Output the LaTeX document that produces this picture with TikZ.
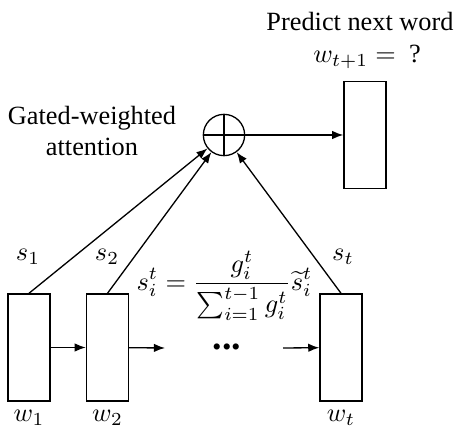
\documentclass[tikz,border=0pt]{standalone}
\usepackage{amsmath, amssymb}
\usepackage{fontspec}
\setmainfont{Liberation Serif}
\usepackage{tikz}
\usetikzlibrary{positioning, arrows.meta}

\begin{document}
\begin{tikzpicture}[
    x=0.38pt, y=-0.38pt,
    font=\fontsize{10}{12}\selectfont,
    cell/.style={draw, line width=0.5pt, minimum width=16pt, minimum height=40.7pt, inner sep=0pt},
    flow/.style={-{Latex[length=4.2pt, width=3.2pt]}, line width=0.5pt},
    tag/.style={inner sep=1pt}
]
\useasboundingbox (0,0) rectangle (459,430);

% Word cells (bottom row)
\node[cell] (w1) at (29,347.5) {};
\node[cell] (w2) at (107.5,347.5) {};
\node[cell] (wt) at (341,347.5) {};

% Output cell
\node[cell] (next) at (365,135) {};

% Summation node
\node[draw, circle, line width=0.5pt, minimum size=15.7pt, inner sep=0pt,
      path picture={\draw[line width=0.5pt] (path picture bounding box.north) -- (path picture bounding box.south)
                    (path picture bounding box.west) -- (path picture bounding box.east);}] (sum) at (224,135) {};

% Word labels
\node[tag, below=2pt of w1] (lw1) {$w_1$};
\node[tag, below=2pt of w2] (lw2) {$w_2$};
\node[tag, below=2pt of wt] (lwt) {$w_t$};

% State labels
\node[tag] (ls1) at (28,257) {$s_1$};
\node[tag] (ls2) at (107,257) {$s_2$};
\node[tag] (lst) at (343,257) {$s_t$};

% Weighting formula
\node[tag] (rule) at (224.5,286) {$\displaystyle s_i^t = \frac{g_i^t}{\sum_{i=1}^{t-1} g_i^t}\widetilde{s}_i^t$};

% Dots
\node[tag] (dots) at (227,347) {\Large\bfseries ...};

% Top annotations
\node[tag, align=center] (gate) at (92,131) {Gated-weighted\\attention};
\node[tag] (pred) at (360,22) {Predict next word};
\node[tag] (ask) at (367,57) {$w_{t+1} =$ \ ?};

% Recurrent arrows
\coordinate (out2) at (165,348);
\coordinate (in3) at (283,348);
\draw[flow] (w1) -- (w2);
\draw[flow] (w2) -- (out2);
\draw[flow] (in3) -- (wt);

% Attention arrows
\draw[flow] (w1.north) -- (sum);
\draw[flow] (w2.north) -- (sum);
\draw[flow] (wt.north) -- (sum);
\draw[flow] (sum) -- (next);

\end{tikzpicture}
\end{document}
